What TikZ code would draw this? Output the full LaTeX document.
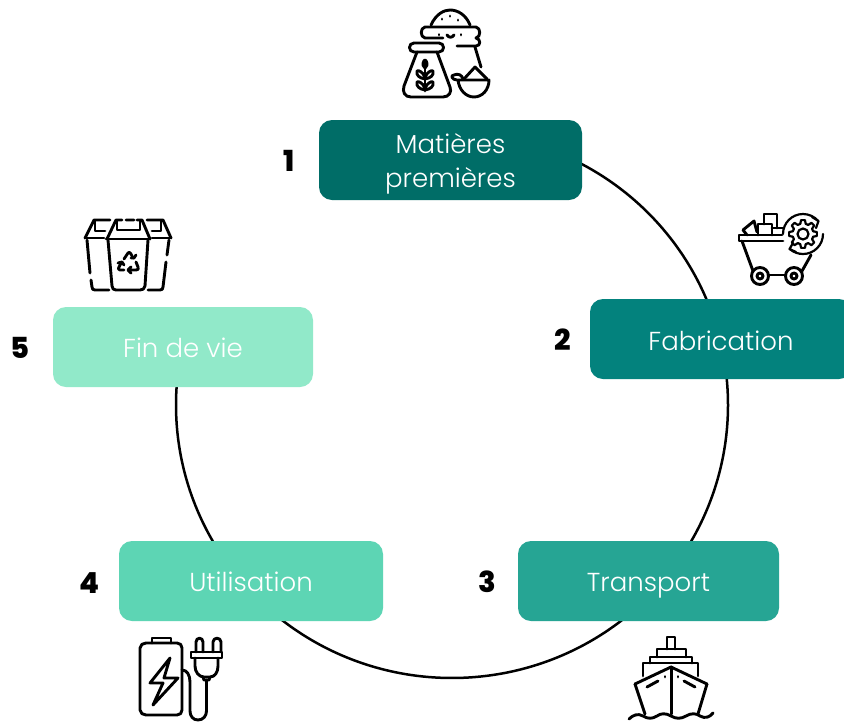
\documentclass[tikz,border=0pt]{standalone}
\usepackage{fontspec}
\setmainfont{Poppins Light}
\newfontfamily\numfont{Poppins ExtraBold}
\usetikzlibrary{calc,backgrounds}
\definecolor{cA}{HTML}{006D67}
\definecolor{cB}{HTML}{03827D}
\definecolor{cC}{HTML}{26A594}
\definecolor{cD}{HTML}{5DD5B4}
\definecolor{cE}{HTML}{91E9C9}
\tikzset{
  x=1pt,y=-1pt,
  stagebox/.style={rounded corners=13pt,minimum height=80pt,text=white,align=center,inner sep=0pt,
    font=\fontsize{26}{34}\selectfont},
  numlabel/.style={font=\numfont\fontsize{29}{29}\selectfont,text=black,inner sep=0pt},
  wheel/.style={line width=2.5pt,black},
  ico/.style={line width=2.9pt,black,line cap=round,line join=round,fill=none},
  ringarc/.style={x radius=276,y radius=273},
}
\begin{document}
\begin{tikzpicture}
\useasboundingbox (0,0) rectangle (844,721);
\coordinate (ctr) at (452,405);
% stages
\node[stagebox,fill=cA,minimum width=263pt] (mat) at (450.5,160) {\rule{0pt}{28pt}Matières\\premières};
\node[stagebox,fill=cB,minimum width=262pt,text height=23pt,text depth=0pt] (fab) at (721,339) {Fabrication};
\node[stagebox,fill=cC,minimum width=261pt,text height=20pt,text depth=0pt] (tra) at (648.5,581) {Transport};
\node[stagebox,fill=cD,minimum width=264pt,text height=20pt,text depth=0pt] (uti) at (251,581) {Utilisation};
\node[stagebox,fill=cE,minimum width=260pt,text height=20pt,text depth=0pt] (fin) at (183,347) {Fin de vie};
% numbers
\node[numlabel] (n1) at (289,161) {1};
\node[numlabel] (n2) at (563,340) {2};
\node[numlabel] (n3) at (487,582) {3};
\node[numlabel] (n4) at (90,583) {4};
\node[numlabel] (n5) at (20,348) {5};
% ring
\begin{scope}[on background layer]
\fill[white] (0,0) rectangle (844,721);
\coordinate (a1) at ($(ctr)+({276*cos(-64)},{273*sin(-64)})$);
\coordinate (a2) at ($(ctr)+({276*cos(-15)},{273*sin(-15)})$);
\coordinate (a3) at ($(ctr)+({276*cos(45)},{273*sin(45)})$);
\coordinate (a4) at ($(ctr)+({276*cos(130)},{273*sin(130)})$);
\draw[wheel] (a1) arc[start angle=-64,end angle=-15,ringarc];
\draw[wheel] (a2) arc[start angle=-15,end angle=45,ringarc];
\draw[wheel] (a3) arc[start angle=45,end angle=130,ringarc];
\draw[wheel] (a4) arc[start angle=130,end angle=185,ringarc];
\end{scope}
% icon 1: sack, flask, bowl
\begin{scope}[ico]
\draw (431,25) .. controls (436,14) and (444,10) .. (450,10) .. controls (458,10) and (466,15) .. (470,25);
\draw (443,38) -- (425,38) .. controls (420,37) and (420,28) .. (425,27) -- (476,27) .. controls (481,28) and (481,37) .. (476,38) .. controls (481,39) and (481,46) .. (476,46) -- (457,46);
\draw (475,47) -- (481,67);
\draw (439,34.5) -- (439,35);
\draw (461,34.5) -- (461,35);
\draw (447,35) .. controls (449,38) and (452,38) .. (454,35);
\draw (442,19) -- (442,19.2) (450,16) -- (450,16.2) (458,20) -- (458,20.2);
\draw (414,43) -- (439,43) .. controls (445,43) and (445,52) .. (439,52) -- (414,52) .. controls (408,52) and (408,43) .. (414,43);
\draw (417,52) -- (404,86) .. controls (402,92) and (405,97) .. (411,97) -- (443,97) .. controls (449,97) and (452,92) .. (450,87) -- (437,52);
\draw (425,62) -- (425,91);
\draw (425,68) .. controls (421,65) and (424,60) .. (425,60) .. controls (426,60) and (429,65) .. (425,68);
\draw (425,77) .. controls (422,71) and (418,70) .. (417,71) .. controls (416,75) and (419,78) .. (425,79);
\draw (425,77) .. controls (428,71) and (432,70) .. (433,71) .. controls (434,75) and (431,78) .. (425,79);
\draw (425,88) .. controls (422,82) and (418,81) .. (417,82) .. controls (416,86) and (419,89) .. (425,90);
\draw (425,88) .. controls (428,82) and (432,81) .. (433,82) .. controls (434,86) and (431,89) .. (425,90);
\draw (457,80) .. controls (452,80) and (450,75) .. (454,75) .. controls (458,73) and (462,75) .. (463,79);
\draw (458,80) -- (489,80) .. controls (489,90) and (482,97) .. (474,97) .. controls (466,97) and (459,90) .. (458,80);
\draw (464,79) -- (475,67) -- (487,79);
\end{scope}
% icon 2: cart and gear
\begin{scope}[ico]
\draw (782,235) -- (739,235) -- (739,241) -- (783,241);
\draw (742,241) -- (753,271);
\draw (811,255) -- (802,271);
\draw (768,275) -- (785,275);
\draw (760,276) circle[radius=8.5];
\draw (760,276) circle[radius=3];
\draw (794,276) circle[radius=8.5];
\draw (794,276) circle[radius=3];
\draw (758,235) -- (758,224) -- (772,224) -- (772,235);
\draw (764,224) -- (764,214) -- (777,214) -- (777,228);
\draw (743,230) -- (754,221) -- (757,232);
\draw (743,230) -- (747,235);
\draw (772,228) -- (783,228);
\end{scope}
\begin{scope}[ico,line width=2.2pt]
\draw (803,234) circle[radius=5.5];
\foreach \t in {0,45,...,315}{
  \draw ($(803,234)+(\t-15:10.5)$) -- ($(803,234)+(\t-8:14)$) -- ($(803,234)+(\t+8:14)$) -- ($(803,234)+(\t+15:10.5)$) arc[start angle=\t+15,end angle=\t+30,radius=10.5];
}
\draw ($(803,234)+(180:20)$) arc[start angle=180,end angle=320,radius=20];
\draw ($(803,234)+(0:20)$) arc[start angle=0,end angle=130,radius=20];
\draw (812,217) -- (818.5,221) -- (816,228);
\draw (796,252) -- (789.5,249) -- (793,243);
\end{scope}
% icon 3: bins
\begin{scope}[ico]
\draw (106,239) -- (150,239);
\draw (107,239) -- (116,220) -- (122,220);
\draw (126,220) -- (134,220) (137,220) -- (142,220) -- (150,239);
\draw (117,221) -- (117,230) -- (140,230) -- (140,221);
\draw (108,240) -- (112,286) .. controls (112,289) and (114,290) .. (116,290) -- (140,290) .. controls (143,290) and (144,289) .. (145,286) -- (148,240);
\draw (85,238) -- (104,238);
\draw (85,238) -- (94,220) -- (110,220);
\draw (95,221) -- (95,231) -- (105,231);
\draw (87,240) -- (90,273);
\draw (91,280) -- (92,287) .. controls (92,289) and (93,290) .. (95,290) -- (109,290);
\draw (171,238) -- (152,238);
\draw (171,238) -- (163,220) -- (147,220);
\draw (161,221) -- (161,231) -- (152,231);
\draw (169,240) -- (167,255);
\draw (166,262) -- (163,287) .. controls (163,289) and (162,290) .. (160,290) -- (148,290);
% recycling mark
\draw (124,259) -- (128,253) .. controls (129,252) and (130,252) .. (131,254) -- (133,258);
\draw (131,258) -- (134,258) -- (136,255);
\draw (136,262) -- (138,267) .. controls (139,269) and (138,270) .. (136,270) -- (129,270);
\draw (131,267) -- (128,270) -- (131,273);
\draw (124,270) -- (120,270) .. controls (118,270) and (118,268) .. (119,267) -- (121,263);
\draw (118,263) -- (122,262) -- (124,265);
\end{scope}
% icon 4: battery and plug
\begin{scope}[ico]
\draw (146,643) -- (177,643) .. controls (180,643) and (182,645) .. (182,648) -- (182,710) .. controls (182,713) and (180,715) .. (177,715) -- (146,715) .. controls (143,715) and (140,713) .. (140,710) -- (140,648) .. controls (140,645) and (143,643) .. (146,643);
\draw (152,643) -- (152,638) -- (171,638) -- (171,643);
\draw (170,658) -- (150,683) -- (163,683) -- (153,705) -- (178,678) -- (164,678) -- cycle;
\draw (196,652) -- (196,642) .. controls (196,637) and (203,637) .. (203,642) -- (203,652);
\draw (213,652) -- (213,642) .. controls (213,637) and (221,637) .. (221,642) -- (221,652);
\draw (191,652) -- (222,652) -- (222,658) -- (191,658) -- cycle;
\draw (195,658) -- (195,666) .. controls (195,672) and (199,677) .. (204,677) -- (210,677) .. controls (215,677) and (218,672) .. (218,666) -- (218,658);
\draw (203,677) -- (204,680) -- (209,680) -- (210,677);
\draw (206.5,680) -- (206.5,711) .. controls (206.5,716) and (203,720) .. (198,720) .. controls (193,720) and (190,716) .. (190,711) -- (190,682) .. controls (190,675) and (187,670) .. (182,670);
\end{scope}
% icon 5: ship
\begin{scope}[ico]
\draw (667,649) -- (667,637) -- (675,637) -- (675,649);
\draw (657,657) -- (657,649) -- (686,649) -- (686,657);
\draw (650,663) -- (650,657) -- (692,657) -- (692,663);
\draw (643,676) -- (643,663) -- (698,663) -- (698,676);
\draw (635,684) -- (671,667) -- (707,684);
\draw (635,684) -- (645,714);
\draw (707,684) -- (698,714);
\draw (671.5,667) -- (671.5,714);
\draw (647,687) -- (658,681);
\draw (695,687) -- (684,681);
\draw (665,676.5) -- (665,677) (678,676.5) -- (678,677);
\draw (629,719) .. controls (633,715) and (638,713) .. (643,716) .. controls (648,719) and (652,719) .. (657,716) .. controls (661,713) and (666,713) .. (671,716) .. controls (676,719) and (681,719) .. (686,716) .. controls (691,713) and (696,713) .. (700,716) .. controls (705,719) and (710,717) .. (713,713);
\end{scope}
\end{tikzpicture}
\end{document}
